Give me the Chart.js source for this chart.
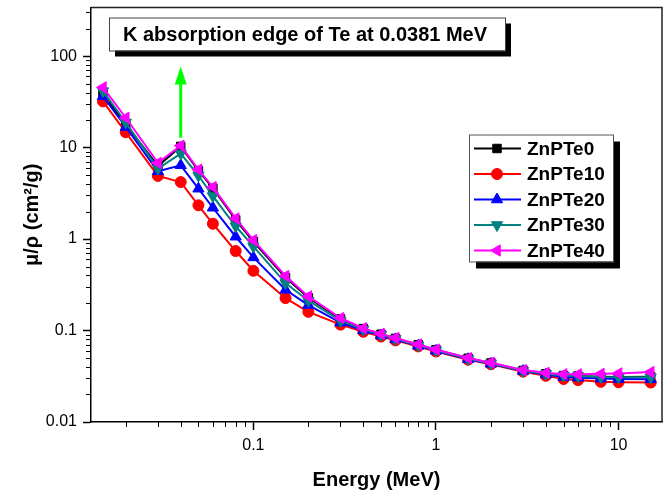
<!DOCTYPE html>
<html><head><meta charset="utf-8">
<script src="https://cdn.jsdelivr.net/npm/chart.js@4"></script>
<style>html,body{margin:0;padding:0;background:#fff}#wrap{width:670px;height:492px;position:relative}</style>
</head><body><div id="wrap"><canvas id="c" width="670" height="492"></canvas></div>
<script>
// ---- data ----
const energy = [0.015,0.02,0.03,0.04,0.05,0.06,0.08,0.1,0.15,0.2,0.3,0.4,0.5,0.6,0.8,1,1.5,2,3,4,5,6,8,10,15];
const znpte0  = [39.0,17.8,6.3,10.3,5.6,3.6,1.62,0.94,0.38,0.228,0.134,0.105,0.091,0.082,0.070,0.0615,0.0497,0.0442,0.0366,0.0337,0.0322,0.0318,0.0312,0.0310,0.0312];
const znpte10 = [32.0,14.7,4.9,4.2,2.34,1.47,0.74,0.45,0.226,0.160,0.116,0.097,0.086,0.078,0.067,0.059,0.048,0.0428,0.0355,0.0320,0.0295,0.0287,0.0275,0.0272,0.0270];
const znpte20 = [36.5,16.8,5.5,6.4,3.55,2.2,1.06,0.63,0.279,0.190,0.122,0.100,0.088,0.080,0.068,0.060,0.0485,0.0432,0.0360,0.0330,0.0310,0.0305,0.0298,0.0295,0.0293];
const znpte30 = [41.5,18.8,5.9,8.6,4.95,2.95,1.38,0.83,0.33,0.212,0.128,0.103,0.090,0.081,0.069,0.061,0.049,0.0437,0.0363,0.0336,0.0322,0.0318,0.0310,0.0308,0.0308];
const znpte40 = [45.5,21.2,6.8,10.5,5.75,3.7,1.68,0.975,0.395,0.236,0.137,0.106,0.092,0.083,0.0705,0.062,0.050,0.0445,0.0370,0.0345,0.0333,0.0332,0.0336,0.0340,0.0352];
const seriesNames = ['ZnPTe0','ZnPTe10','ZnPTe20','ZnPTe30','ZnPTe40'];
const xMajorTicks = [0.1,1,10];
const yMajorTicks = [0.01,0.1,1,10,100];
const annotationText = 'K absorption edge of Te at 0.0381 MeV';
const edgeEnergy = 0.04;

// ---- styles ----
const FONT = '"Liberation Sans", Arial, Helvetica, sans-serif';
const seriesValues = [znpte0, znpte10, znpte20, znpte30, znpte40];
const seriesColors = ['#000000','#ff0000','#0000ff','#008080','#ff00ff'];
const seriesStyles = ['rect','circle','triangle','triangle','triangle'];
const seriesRot = [0,0,0,180,270];
const seriesRadius = [6,5.5,6.5,6.5,6.5];

const datasets = seriesNames.map((name,i)=>({
  label:name,
  data: energy.map((e,j)=>({x:e,y:seriesValues[i][j]})),
  borderColor: seriesColors[i],
  backgroundColor: seriesColors[i],
  pointBackgroundColor: seriesColors[i],
  pointBorderColor: seriesColors[i],
  pointBorderWidth: 1,
  pointStyle: seriesStyles[i],
  pointRotation: seriesRot[i],
  pointRadius: seriesRadius[i],
  borderWidth: 2,
  tension: 0,
  order: 4 - i
}));

function fmt(v){ return String(+v.toPrecision(6)); }

const decor = {
  id:'decor',
  afterDraw(chart){
    const ctx = chart.ctx, ca = chart.chartArea;
    const xs = chart.scales.x, ys = chart.scales.y;
    ctx.save();
    // frame (top and right)
    ctx.strokeStyle = '#222'; ctx.lineWidth = 1.5;
    ctx.beginPath();
    ctx.moveTo(ca.left, ca.top); ctx.lineTo(ca.right, ca.top); ctx.lineTo(ca.right, ca.bottom);
    ctx.stroke();
    // minor ticks
    ctx.strokeStyle = '#000'; ctx.lineWidth = 1;
    function minors(scale){
      const lo = Math.floor(Math.log10(scale.min)), hi = Math.ceil(Math.log10(scale.max));
      const out=[];
      for(let d=lo; d<=hi; d++) for(let m=2;m<=9;m++){ const v=m*Math.pow(10,d); if(v>=scale.min && v<=scale.max) out.push(v); }
      return out;
    }
    ctx.beginPath();
    minors(xs).forEach(v=>{ const px=Math.round(xs.getPixelForValue(v))+0.5; ctx.moveTo(px, ca.bottom); ctx.lineTo(px, ca.bottom+5); });
    minors(ys).forEach(v=>{ const py=Math.round(ys.getPixelForValue(v))+0.5; ctx.moveTo(ca.left-5, py); ctx.lineTo(ca.left, py); });
    ctx.stroke();

    // annotation box
    const bx = ca.left+18, by = ca.top+10, bw = 396, bh = 33;
    ctx.fillStyle = '#000';
    ctx.fillRect(bx+6, by+6, bw, bh);
    ctx.fillStyle = '#fff';
    ctx.fillRect(bx, by, bw, bh);
    ctx.strokeStyle = '#444'; ctx.lineWidth = 1;
    ctx.strokeRect(bx+0.5, by+0.5, bw, bh);
    ctx.fillStyle = '#000';
    ctx.font = 'bold 20px ' + FONT;
    ctx.textAlign = 'center'; ctx.textBaseline = 'middle';
    ctx.fillText(annotationText, bx + bw/2 - 2, by + bh/2 + 1);

    // green arrow
    const ax = xs.getPixelForValue(edgeEnergy);
    const peakY = ys.getPixelForValue(znpte40[energy.indexOf(edgeEnergy)]);
    const tipY = ca.top + 59, baseY = peakY - 8;
    ctx.strokeStyle = '#00ff00'; ctx.fillStyle = '#00ff00'; ctx.lineWidth = 3;
    ctx.beginPath(); ctx.moveTo(ax, baseY); ctx.lineTo(ax, tipY + 16); ctx.stroke();
    ctx.beginPath(); ctx.moveTo(ax, tipY); ctx.lineTo(ax-6, tipY+18); ctx.lineTo(ax+6, tipY+18); ctx.closePath(); ctx.fill();

    // legend
    const lx = ca.right - 193, ly = ca.top + 127, lw = 144, lh = 127;
    ctx.fillStyle = '#000'; ctx.fillRect(lx+7, ly+7, lw, lh);
    ctx.fillStyle = '#fff'; ctx.fillRect(lx, ly, lw, lh);
    ctx.strokeStyle = '#555'; ctx.lineWidth = 1; ctx.strokeRect(lx+0.5, ly+0.5, lw, lh);
    ctx.font = 'bold 19px ' + FONT; ctx.textAlign='left'; ctx.textBaseline='middle';
    chart.data.datasets.forEach((ds,i)=>{
      const yy = ly + 14 + i*25.5;
      ctx.strokeStyle = ds.borderColor; ctx.lineWidth = 2;
      ctx.beginPath(); ctx.moveTo(lx+5, yy); ctx.lineTo(lx+52, yy); ctx.stroke();
      ctx.fillStyle = ds.backgroundColor; ctx.strokeStyle = ds.borderColor; ctx.lineWidth=1;
      Chart.helpers.drawPoint(ctx, {pointStyle: ds.pointStyle, rotation: ds.pointRotation, radius: ds.pointRadius, borderWidth:1}, lx+28, yy);
      ctx.fillStyle = '#000';
      ctx.fillText(ds.label, lx+58, yy+1);
    });
    ctx.restore();
  }
};

new Chart(document.getElementById('c'), {
  type:'line',
  data:{datasets},
  options:{
    responsive:false, animation:false, devicePixelRatio:1,
    layout:{padding:{top:6,right:8,left:0,bottom:0}},
    plugins:{legend:{display:false}, tooltip:{enabled:false}},
    scales:{
      x:{
        type:'logarithmic', min:0.0129, max:17.3,
        afterBuildTicks:(s)=>{ s.ticks = xMajorTicks.map(v=>({value:v})); },
        afterFit:(s)=>{ s.height = 70; s.paddingLeft = 0; s.paddingRight = 0; },
        ticks:{autoSkip:false, maxRotation:0, padding:6, color:'#000', font:{family:FONT,size:16}, callback:(v)=>fmt(v)},
        grid:{drawOnChartArea:false, drawTicks:true, tickLength:8, tickColor:'#000', tickWidth:1.5},
        border:{display:true, color:'#000', width:1.5},
        title:{display:true, text:'Energy (MeV)', color:'#000', font:{family:FONT,size:20,weight:'bold'}, padding:{top:5,bottom:0}}
      },
      y:{
        type:'logarithmic', min:0.01, max:340,
        afterBuildTicks:(s)=>{ s.ticks = yMajorTicks.map(v=>({value:v})); },
        afterFit:(s)=>{ s.width = 91; s.paddingTop = 0; s.paddingBottom = 0; },
        ticks:{autoSkip:false, padding:6, color:'#000', font:{family:FONT,size:16}, callback:(v)=>fmt(v)},
        grid:{drawOnChartArea:false, drawTicks:true, tickLength:8, tickColor:'#000', tickWidth:1.5},
        border:{display:true, color:'#000', width:1.5},
        title:{display:true, text:'\u03bc/\u03c1 (cm\u00b2/g)', color:'#000', font:{family:FONT,size:20,weight:'bold'}, padding:{top:20,bottom:0}}
      }
    }
  },
  plugins:[decor]
});
</script></body></html>
